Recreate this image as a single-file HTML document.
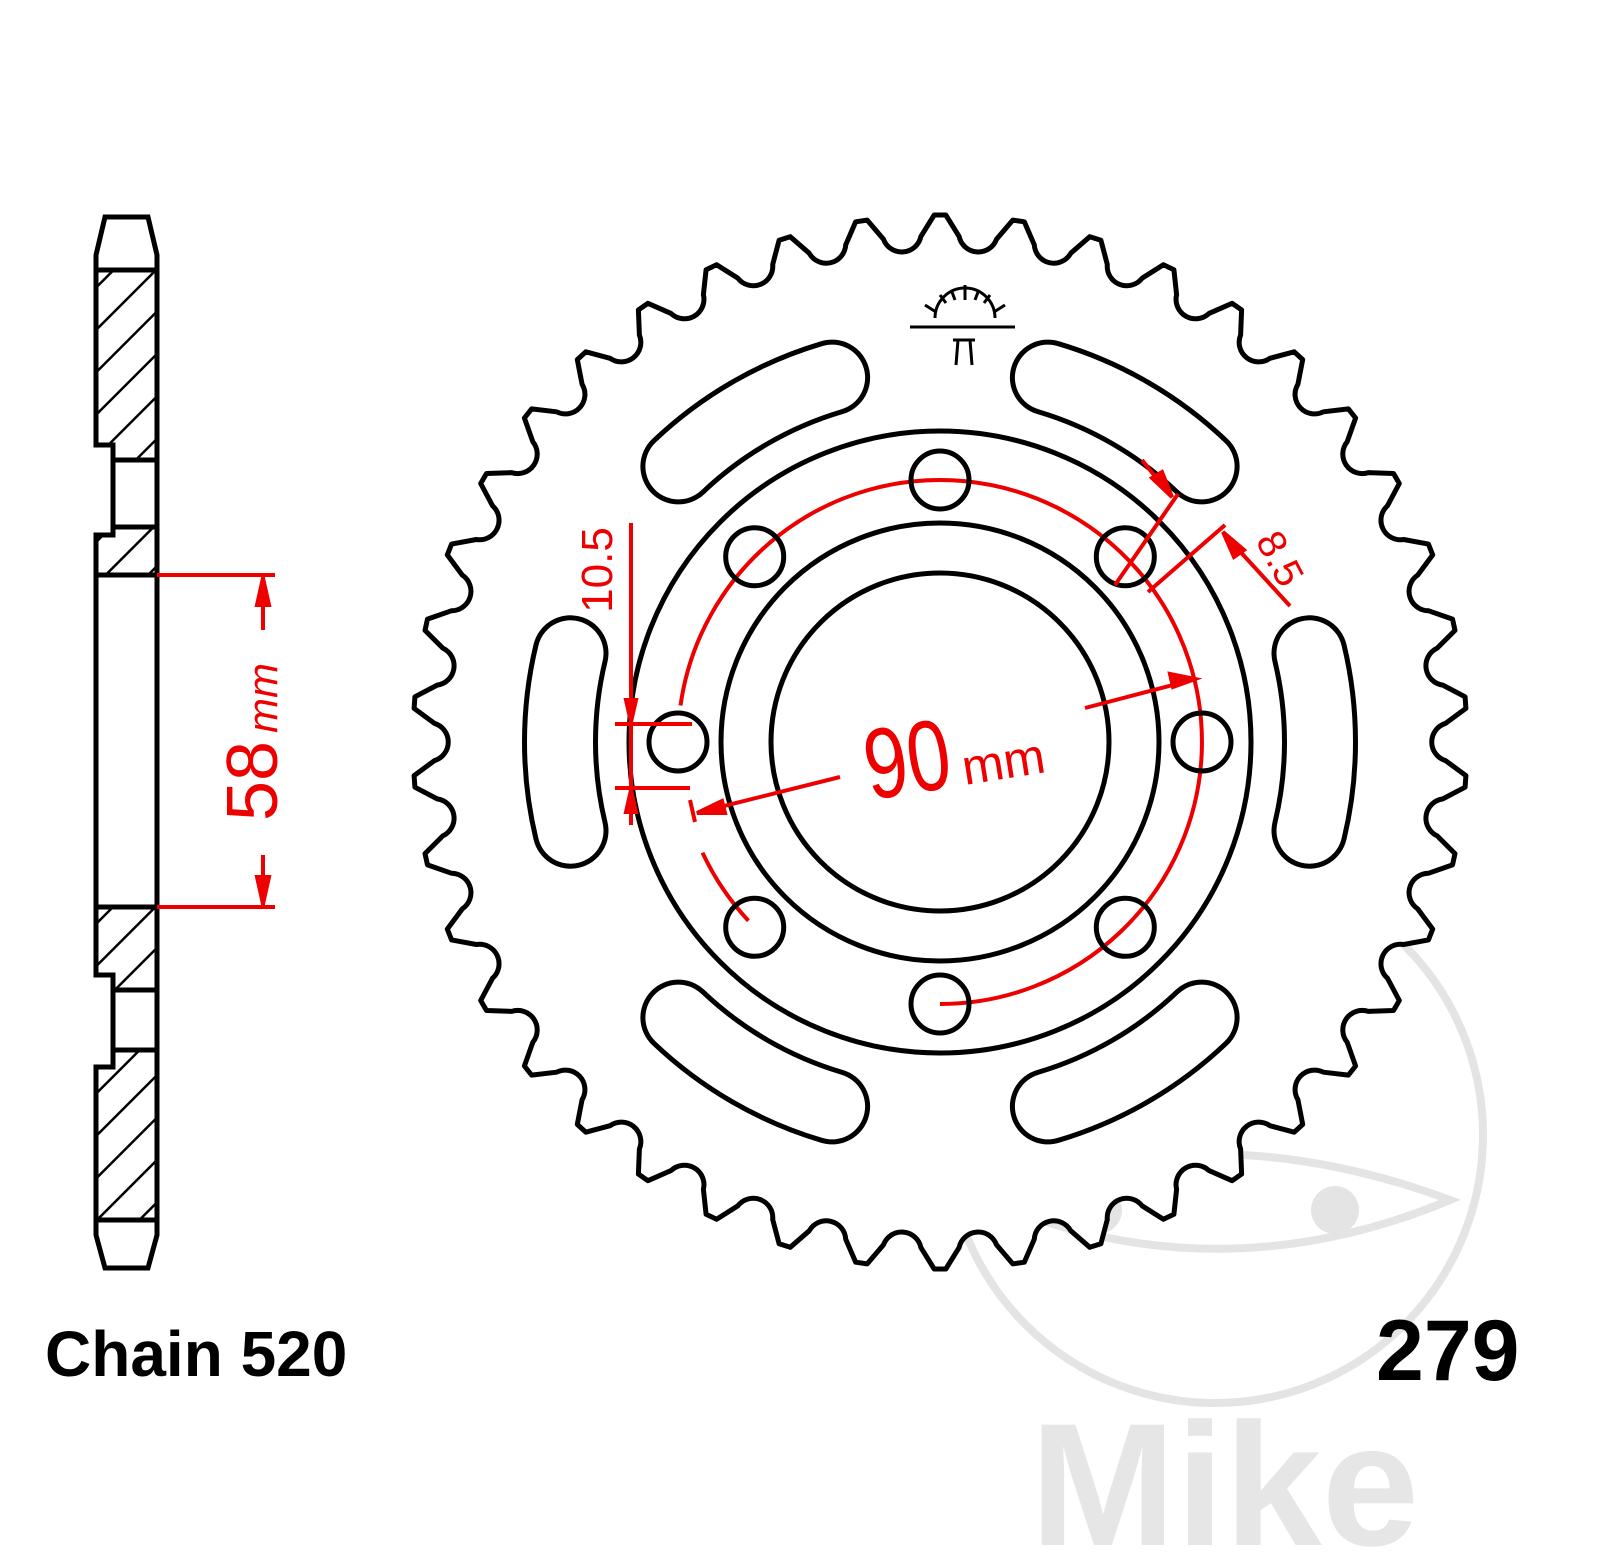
<!DOCTYPE html>
<html><head><meta charset="utf-8"><style>
html,body{margin:0;padding:0;background:#fff;}
svg{display:block;}
</style></head><body>
<svg id="s" width="1600" height="1558" viewBox="0 0 1600 1558" xmlns="http://www.w3.org/2000/svg">
<defs>
<pattern id="h" patternUnits="userSpaceOnUse" width="30" height="30" patternTransform="rotate(45)">
<line x1="0" y1="0" x2="0" y2="30" stroke="#000" stroke-width="5"/>
</pattern>
</defs>
<!-- watermark -->
<g fill="none" stroke="#e4e4e4" stroke-width="8">
<circle cx="1215" cy="1135" r="268"/>
<path d="M975 1195 Q1210 1110 1450 1200 Q1210 1300 975 1195Z"/>
</g>
<circle cx="1098" cy="1210" r="24" fill="#e4e4e4"/>
<circle cx="1335" cy="1210" r="24" fill="#e4e4e4"/>
<text x="1030" y="1545" font-family="Liberation Sans, sans-serif" font-weight="bold" font-size="175" fill="#e6e6e6">Mike</text>

<!-- side view -->
<g stroke="#000" stroke-width="5" stroke-linejoin="miter">
<path d="M105 217 L148 217 L157 255 L157 270 L96 270 L96 255 Z" fill="#fff"/>
<path d="M96 270 L157 270 L157 460 L113 460 L113 445 L96 445 Z" fill="url(#h)"/>
<rect x="113" y="460" width="44" height="67" fill="#fff"/>
<path d="M113 527 L157 527 L157 575 L96 575 L96 535 L113 535 Z" fill="url(#h)"/>
<rect x="96" y="575" width="61" height="332" fill="#fff"/>
<path d="M96 907 L157 907 L157 990 L113 990 L113 975 L96 975 Z" fill="url(#h)"/>
<rect x="113" y="990" width="44" height="60" fill="#fff"/>
<path d="M113 1050 L157 1050 L157 1220 L96 1220 L96 1067 L113 1067 Z" fill="url(#h)"/>
<path d="M96 1220 L157 1220 L157 1235 L148 1268 L105 1268 L96 1235 Z" fill="#fff"/>
</g>
<!-- 58mm dim -->
<g stroke="#e00" stroke-width="4" fill="#e00">
<line x1="157" y1="575" x2="275" y2="575"/>
<line x1="157" y1="907" x2="275" y2="907"/>
<line x1="263" y1="575" x2="263" y2="630"/>
<line x1="263" y1="855" x2="263" y2="907"/>
<path d="M263 578 L257 605 L269 605Z"/>
<path d="M263 904 L257 877 L269 877Z"/>
</g>
<text transform="translate(277,742) rotate(-90)" text-anchor="middle" font-family="Liberation Sans, sans-serif" fill="#e00"><tspan font-size="72">58</tspan><tspan font-size="42" dx="8" font-style="italic">mm</tspan></text>

<g id="gear"></g>

<!-- texts -->
<text x="45" y="1376" font-family="Liberation Sans, sans-serif" font-weight="bold" font-size="64" fill="#000">Chain 520</text>
<text x="1376" y="1380" font-family="Liberation Sans, sans-serif" font-weight="bold" font-size="86" fill="#000">279</text>
</svg>
<script>
(function(){
var cx=940,cy=742,N=42,p=2*Math.PI/N,R=527,rv=506,a=0.037,tw=0.011;
function pt(r,t){return (cx+r*Math.cos(t)).toFixed(1)+' '+(cy+r*Math.sin(t)).toFixed(1);}
var d='';
for(var i=0;i<N;i++){
 var t=-Math.PI/2+i*p;
 d+=(i==0?'M':'L')+pt(R,t-tw)+' L'+pt(R,t+tw)+' L'+pt(rv,t+p/2-a)+' A19.5 19.5 0 0 0 '+pt(rv,t+p/2+a)+' ';
}
d+='Z';
var s='<path d="'+d+'" fill="#fff" stroke="#000" stroke-width="5" stroke-linejoin="round"/>';
for(var k=0;k<6;k++){
 var c=k*Math.PI/3, w=13.5*Math.PI/180, r=380;
 var sd='M'+pt(r,c-w)+' A'+r+' '+r+' 0 0 1 '+pt(r,c+w);
 s+='<path d="'+sd+'" fill="none" stroke="#000" stroke-width="76" stroke-linecap="round"/>';
 s+='<path d="'+sd+'" fill="none" stroke="#fff" stroke-width="66" stroke-linecap="round"/>';
}
s+='<g fill="none" stroke="#000" stroke-width="5"><circle cx="'+cx+'" cy="'+cy+'" r="311"/><circle cx="'+cx+'" cy="'+cy+'" r="219"/><circle cx="'+cx+'" cy="'+cy+'" r="169"/></g>';
var rb=262;
function arc(a1,a2){a1*=Math.PI/180;a2*=Math.PI/180;var large=(a2-a1)>Math.PI?1:0;return 'M'+pt(rb,a1)+' A'+rb+' '+rb+' 0 '+large+' 1 '+pt(rb,a2);}
s+='<g fill="none" stroke="#e00" stroke-width="4"><path d="'+arc(188,450)+'"/><path d="'+arc(137,155)+'"/></g>';
for(var j=0;j<8;j++){var t=j*Math.PI/4;s+='<circle cx="'+(cx+rb*Math.cos(t)).toFixed(1)+'" cy="'+(cy+rb*Math.sin(t)).toFixed(1)+'" r="29" fill="none" stroke="#000" stroke-width="5"/>';}
document.getElementById('gear').innerHTML=s;
})();
</script>
<div style="position:absolute;left:0;top:0;width:1600px;height:1558px;pointer-events:none">
<svg width="1600" height="1558" viewBox="0 0 1600 1558" xmlns="http://www.w3.org/2000/svg">
<g stroke="#000" stroke-width="3" fill="none">
<path d="M935 318 A30 30 0 0 1 995 318"/>
<line x1="910" y1="327" x2="1015" y2="327"/>
<line x1="965" y1="285" x2="965" y2="300"/>
<line x1="940" y1="295" x2="946" y2="303"/><line x1="990" y1="295" x2="984" y2="303"/>
<line x1="925" y1="305" x2="936" y2="312"/><line x1="1005" y1="305" x2="994" y2="312"/>
<line x1="952" y1="292" x2="955" y2="300"/><line x1="978" y1="292" x2="975" y2="300"/>
<path d="M953 340 L975 340 M958 340 L956 365 M970 340 L972 365"/>
</g>
<g stroke="#e00" stroke-width="4" fill="#e00">
<line x1="700" y1="812" x2="840" y2="777"/>
<path d="M697 813 L722 801 L725 813Z"/>
<line x1="690" y1="800" x2="695" y2="822"/>
<line x1="1085" y1="708" x2="1192" y2="680"/>
<path d="M1195 679 L1170 674 L1173 687Z"/>
</g>
<text transform="translate(870,800) rotate(-9)" font-family="Liberation Sans, sans-serif" fill="#e00"><tspan font-size="100" textLength="86" lengthAdjust="spacingAndGlyphs">90</tspan><tspan font-size="50" dx="10">mm</tspan></text>
<g stroke="#e00" stroke-width="4" fill="#e00">
<line x1="631" y1="523" x2="631" y2="825"/>
<line x1="615" y1="724" x2="692" y2="724"/>
<line x1="615" y1="788" x2="690" y2="788"/>
<path d="M631 722 L626 700 L636 700Z"/>
<path d="M631 790 L626 812 L636 812Z"/>
</g>
<text transform="translate(612,570) rotate(-90)" text-anchor="middle" font-family="Liberation Sans, sans-serif" font-size="44" fill="#e00">10.5</text>
<g stroke="#e00" stroke-width="4" fill="#e00">
<line x1="1115" y1="585" x2="1178" y2="494"/>
<line x1="1148" y1="592" x2="1225" y2="525"/>
<line x1="1142" y1="460" x2="1170" y2="495"/>
<path d="M1172 497 L1152 478 L1162 472Z"/>
<line x1="1290" y1="606" x2="1225" y2="535"/>
<path d="M1223 532 L1244 550 L1234 557Z"/>
</g>
<text transform="translate(1268,565) rotate(62)" text-anchor="middle" font-family="Liberation Sans, sans-serif" font-size="40" fill="#e00">8.5</text>
</svg></div>
</body></html>
